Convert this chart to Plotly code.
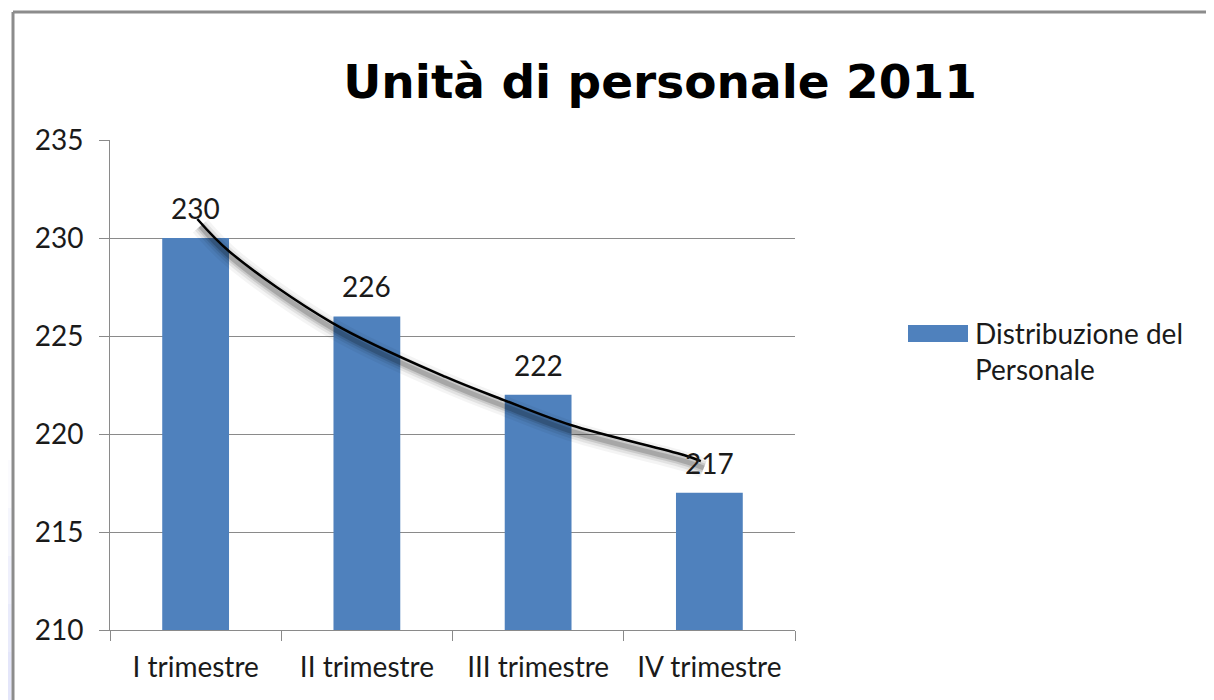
import plotly.graph_objects as go

# ---- data ----
categories = ["I trimestre", "II trimestre", "III trimestre", "IV trimestre"]
values = [230, 226, 222, 217]
series_name = "Distribuzione del Personale"
title_text = "Unità di personale 2011"
y_ticks = [210, 215, 220, 225, 230, 235]

# hand-drawn trend curve (category index, value)
trend_x = [0.01, 0.20, 0.80, 1.46, 1.80, 2.19, 2.85, 2.95]
trend_y = [230.97, 229.29, 225.66, 222.91, 221.73, 220.46, 218.93, 218.62]

# ---- layout constants ----
OFF = 8  # page body margin: figure starts 8px in from page corner
W, H = 1214, 700
L, R, T, B = 110 - OFF, 795 - OFF, 140 - OFF, 630 - OFF
BAR_COLOR = "#4F81BD"
GRID = "#8A8A8A"
TXT = "#1A1A1A"
FONT = "Lato"
FS = 28

def px_x(p):  # page pixel -> paper x
    return (p - OFF - L) / (R - L)

def px_y(p):  # page pixel -> paper y
    return (B - (p - OFF)) / (B - T)

fig = go.Figure()

fig.add_trace(go.Bar(
    x=categories, y=values, name=series_name,
    marker=dict(color=BAR_COLOR, line=dict(width=0)),
    showlegend=False, hoverinfo="x+y",
))

# shadow of the trend curve (offset a few px down/right)
dx, dy = 3 / 171, -7 / 19.6
for w, a in [(20, 0.045), (14, 0.07), (9, 0.11), (5, 0.17)]:
    fig.add_trace(go.Scatter(
        x=[v + dx for v in trend_x], y=[v + dy for v in trend_y],
        mode="lines", line=dict(color=f"rgba(0,0,0,{a})", width=w, shape="spline"),
        xaxis="x2", showlegend=False, hoverinfo="skip",
    ))
fig.add_trace(go.Scatter(
    x=trend_x, y=trend_y, mode="lines",
    line=dict(color="black", width=2.5, shape="spline"),
    xaxis="x2", showlegend=False, hoverinfo="skip",
))

# data labels
for c, v in zip(categories, values):
    fig.add_annotation(x=c, y=v, text=str(v), showarrow=False,
                       yanchor="bottom", yshift=11,
                       font=dict(family=FONT, size=FS, color=TXT))

shapes = []
# frame
shapes.append(dict(type="line", xref="paper", yref="paper",
                   x0=px_x(13), x1=px_x(1240), y0=px_y(12), y1=px_y(12),
                   line=dict(color="#8C8C8C", width=3)))
shapes.append(dict(type="line", xref="paper", yref="paper",
                   x0=px_x(13), x1=px_x(13), y0=px_y(12), y1=px_y(720),
                   line=dict(color="#8C8C8C", width=3)))
# left gradient strip
bands = ["#FBFBFE", "#F5F6FD", "#EFF0FC", "#E9EBFB", "#E4E6FA"]
for i, col in enumerate(bands):
    y0 = 460 + i * 48
    shapes.append(dict(type="rect", xref="paper", yref="paper",
                       x0=px_x(0), x1=px_x(11.5), y0=px_y(y0), y1=px_y(y0 + 48),
                       fillcolor=col, line=dict(width=0), layer="below"))
# legend symbol
shapes.append(dict(type="rect", xref="paper", yref="paper",
                   x0=px_x(908), x1=px_x(968), y0=px_y(325), y1=px_y(342),
                   fillcolor=BAR_COLOR, line=dict(width=0)))

fig.add_annotation(xref="paper", yref="paper", x=px_x(973), y=px_y(351),
                   xanchor="left", yanchor="middle", align="left",
                   text="Distribuzione del<br>Personale", showarrow=False,
                   font=dict(family=FONT, size=FS, color=TXT))

fig.update_layout(
    width=W, height=H,
    margin=dict(l=L, r=W - R, t=T, b=H - B, pad=0),
    paper_bgcolor="white", plot_bgcolor="white",
    title=dict(text=f"<b>{title_text}</b>", x=(660 - OFF) / W, xanchor="center",
               y=1 - (82 - OFF) / H, yanchor="middle",
               font=dict(family="DejaVu Sans", size=47, color="black")),
    bargap=0.61,
    shapes=shapes,
    xaxis=dict(type="category", showline=True, linecolor=GRID, linewidth=1,
               ticks="outside", tickson="boundaries", ticklen=10, tickcolor=GRID,
               showgrid=False, tickfont=dict(family=FONT, size=FS, color=TXT),
               ticklabelstandoff=12),
    xaxis2=dict(overlaying="x", range=[-0.5, 3.5], visible=False),
    yaxis=dict(range=[210, 235], tickvals=y_ticks, showline=True, linecolor=GRID,
               linewidth=1, ticks="outside", ticklen=10, tickcolor=GRID,
               showgrid=True, gridcolor=GRID, gridwidth=1, zeroline=False,
               tickfont=dict(family=FONT, size=FS, color=TXT),
               ticklabelstandoff=10),
)

fig.write_html("out.html")
